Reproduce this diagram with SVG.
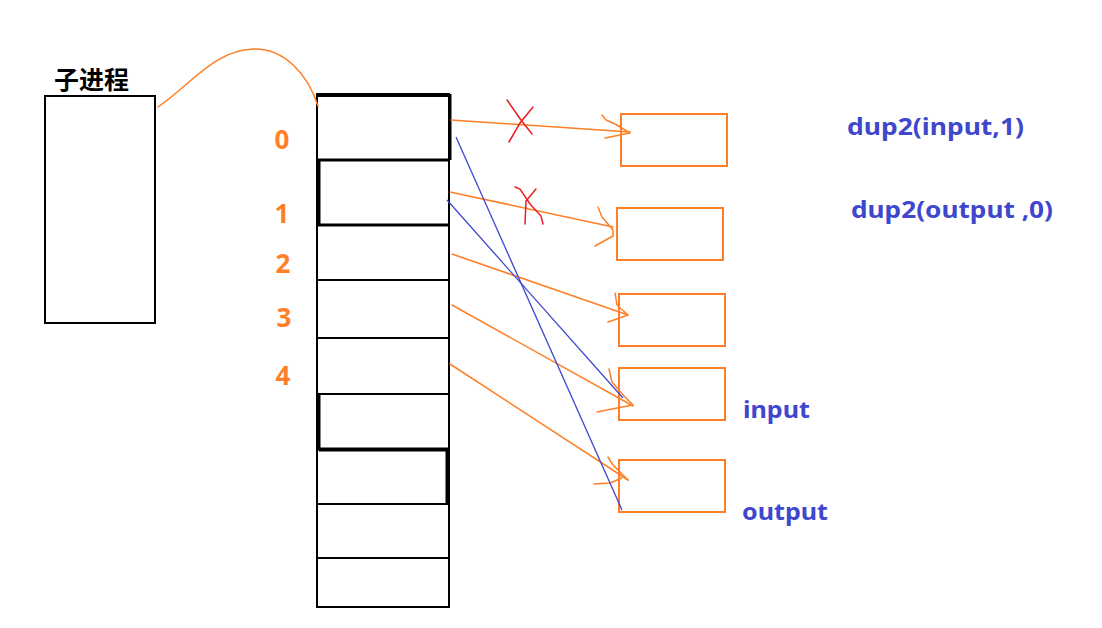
<svg xmlns="http://www.w3.org/2000/svg" width="1102" height="628" viewBox="0 0 1102 628">
<defs>
<style>
.bk{fill:none;stroke:#000;stroke-width:2}
.bk3{fill:none;stroke:#000;stroke-width:3}
.ob{fill:none;stroke:#FF7F27;stroke-width:2}
.ol{fill:none;stroke:#FF7F27;stroke-width:1.5;stroke-linecap:round;stroke-linejoin:round}
.bl{fill:none;stroke:#3F48CC;stroke-width:1.3}
.rx{fill:none;stroke:#ED1C24;stroke-width:1.5;stroke-linecap:round}
.num{font-family:"Noto Sans","Liberation Sans",sans-serif;font-weight:bold;font-size:26px;fill:#FF7F27;text-anchor:middle}
.blt{font-family:"Noto Sans","Liberation Sans",sans-serif;font-weight:bold;font-size:24px;fill:#3F48CC}
.cjk{font-family:"Noto Sans CJK SC","Noto Sans",sans-serif;font-weight:bold;font-size:25px;fill:#000}
</style>
</defs>
<rect width="1102" height="628" fill="#fff"/>
<g id="child">
<text class="cjk" x="54" y="89">子进程</text>
<rect class="bk" x="45" y="96" width="110" height="227"/>
</g>
<g id="fdtable">
<rect class="bk" x="317" y="94" width="132" height="513"/>
<line class="bk" x1="317" y1="280" x2="449" y2="280"/>
<line class="bk" x1="317" y1="338" x2="449" y2="338"/>
<line class="bk" x1="317" y1="394" x2="449" y2="394"/>
<line class="bk" x1="317" y1="504" x2="449" y2="504"/>
<line class="bk" x1="317" y1="558" x2="449" y2="558"/>
<path class="bk3" d="M317 95.5 H450 V160 M317 160 H449"/>
<path class="bk3" d="M319 160 V225 H449"/>
<path class="bk3" d="M319 394 V449 H448 M319 450 H447 V504"/>
</g>
<g id="labels">
<text class="num" x="282" y="149">0</text>
<text class="num" x="282" y="223">1</text>
<text class="num" x="283" y="273">2</text>
<text class="num" x="284" y="327">3</text>
<text class="num" x="283" y="385">4</text>
</g>
<g id="fileA"><rect class="ob" x="621" y="114" width="106" height="52"/></g>
<g id="fileB"><rect class="ob" x="617" y="208" width="106" height="52"/></g>
<g id="fileC"><rect class="ob" x="619" y="294" width="106" height="52"/></g>
<g id="fileInput"><rect class="ob" x="619" y="368" width="106" height="52"/></g>
<g id="fileOutput"><rect class="ob" x="619" y="460" width="106" height="52"/></g>
<g id="notes">
<text class="blt" x="847" y="135" textLength="177" lengthAdjust="spacingAndGlyphs">dup2(input,1)</text>
<text class="blt" x="851" y="218" textLength="202" lengthAdjust="spacingAndGlyphs">dup2(output ,0)</text>
<text class="blt" x="743" y="418" textLength="67" lengthAdjust="spacingAndGlyphs">input</text>
<text class="blt" x="742" y="520" textLength="86" lengthAdjust="spacingAndGlyphs">output</text>
</g>
<g id="connectors">
<path class="ol" d="M158 107 C190 85 215 50 253 49 C285 48 308 75 318 106"/>
<path class="ol" d="M451 120 L630 132"/>
<path class="ol" d="M602 115 L606 120 L615 124 L630 133 L605 138"/>
<path class="ol" d="M450 192 L613 227"/>
<path class="ol" d="M598 207 L602 217 L613 230 L613 236 L595 246"/>
<path class="ol" d="M452 254 L628 315"/>
<path class="ol" d="M615 293 L617 305 L628 315 L608 322"/>
<path class="ol" d="M452 305 L633 406"/>
<path class="ol" d="M609 369 L612 382 L624 396 L633 405 L612 409 L597 412"/>
<path class="ol" d="M450 364 L628 480"/>
<path class="ol" d="M608 457 L613 465 L628 480 M594 484 L610 483 L622 478"/>
<path class="rx" d="M507 100 L521 120 L532 134 M533 107 L520 123 L509 142"/>
<path class="rx" d="M515 187 L520 189 L530 204 L541 216 L543 224 M536 189 L526 201 L525 224"/>
<line class="bl" x1="456" y1="137" x2="622" y2="510"/>
<line class="bl" x1="447" y1="200" x2="623" y2="398"/>
</g>
</svg>
